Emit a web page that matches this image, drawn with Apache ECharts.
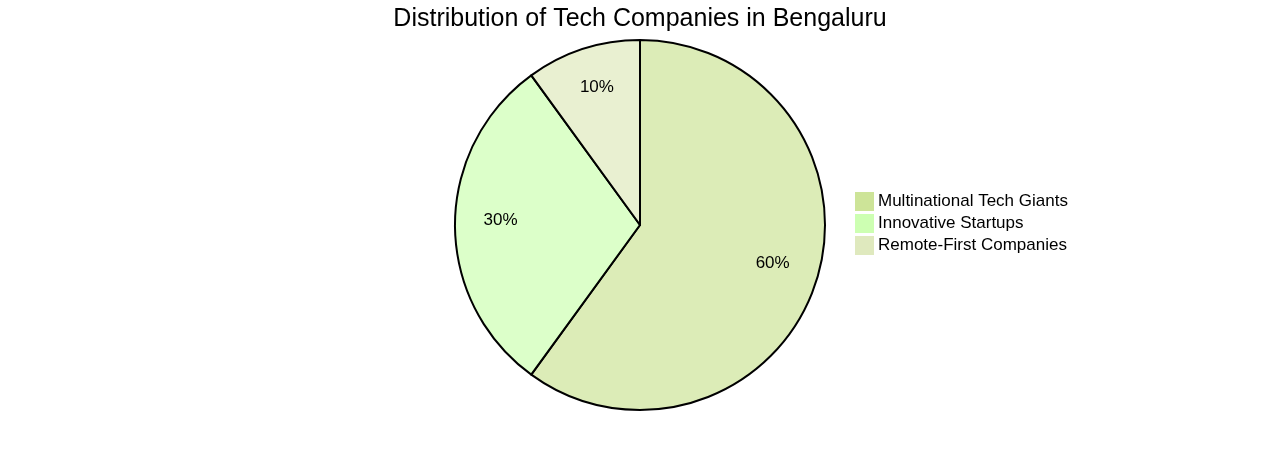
<!DOCTYPE html>
<html>
<head>
<meta charset="utf-8">
<script src="https://cdn.jsdelivr.net/npm/echarts@6/dist/echarts.min.js"></script>
<style>
  html, body { margin: 0; padding: 0; background: #fff; }
  #chart { width: 1280px; height: 450px; }
</style>
</head>
<body>
<div id="chart"></div>
<script>
const categories = ['Multinational Tech Giants', 'Innovative Startups', 'Remote-First Companies']
const values = [60, 30, 10]
const colors = ['#cde498', '#cdffb2', '#dfe9be']
// slices are drawn with the same colours at 70% opacity
const fillColors = ['rgba(205,228,152,0.7)', 'rgba(205,255,178,0.7)', 'rgba(223,233,190,0.7)']

const chart = echarts.init(document.getElementById('chart'))

const data = categories.map((name, i) => ({
    name,
    value: values[i],
    itemStyle: { color: fillColors[i] }
}))

const option = {
    animation: false,
    title: {
        text: 'Distribution of Tech Companies in Bengaluru',
        left: 'center',
        top: 2,
        textStyle: { fontFamily: 'Liberation Sans', fontSize: 25, fontWeight: 'normal', color: '#000' }
    },
    legend: {
        orient: 'vertical',
        left: 850,
        top: 187,
        itemWidth: 19,
        itemHeight: 19,
        itemGap: 3,
        icon: 'rect',
        textStyle: { fontFamily: 'Liberation Sans', fontSize: 17, color: '#000', padding: [0, 0, 0, -1] },
        data: categories.map((name, i) => ({
            name,
            itemStyle: { color: colors[i], opacity: 1, borderWidth: 0 }
        }))
    },
    series: [
        {
            type: 'pie',
            center: [640, 225],
            radius: [0, 185],
            startAngle: 90,
            clockwise: true,
            silent: true,
            label: { show: false },
            labelLine: { show: false },
            itemStyle: { borderColor: '#000', borderWidth: 2 },
            data
        },
        {
            // label ring only, puts text near 3/4 of the radius
            type: 'pie',
            center: [640, 225],
            radius: [88, 185],
            startAngle: 90,
            clockwise: true,
            silent: true,
            legendHoverLink: false,
            itemStyle: { color: 'transparent', borderWidth: 0 },
            label: {
                show: true,
                position: 'inside',
                formatter: '{d}%',
                fontFamily: 'Liberation Sans',
                fontSize: 17,
                color: '#000',
                offset: [0, -5]
            },
            labelLine: { show: false },
            data: categories.map((name, i) => ({ name, value: values[i] }))
        }
    ]
}
chart.setOption(option)
</script>
</body>
</html>
